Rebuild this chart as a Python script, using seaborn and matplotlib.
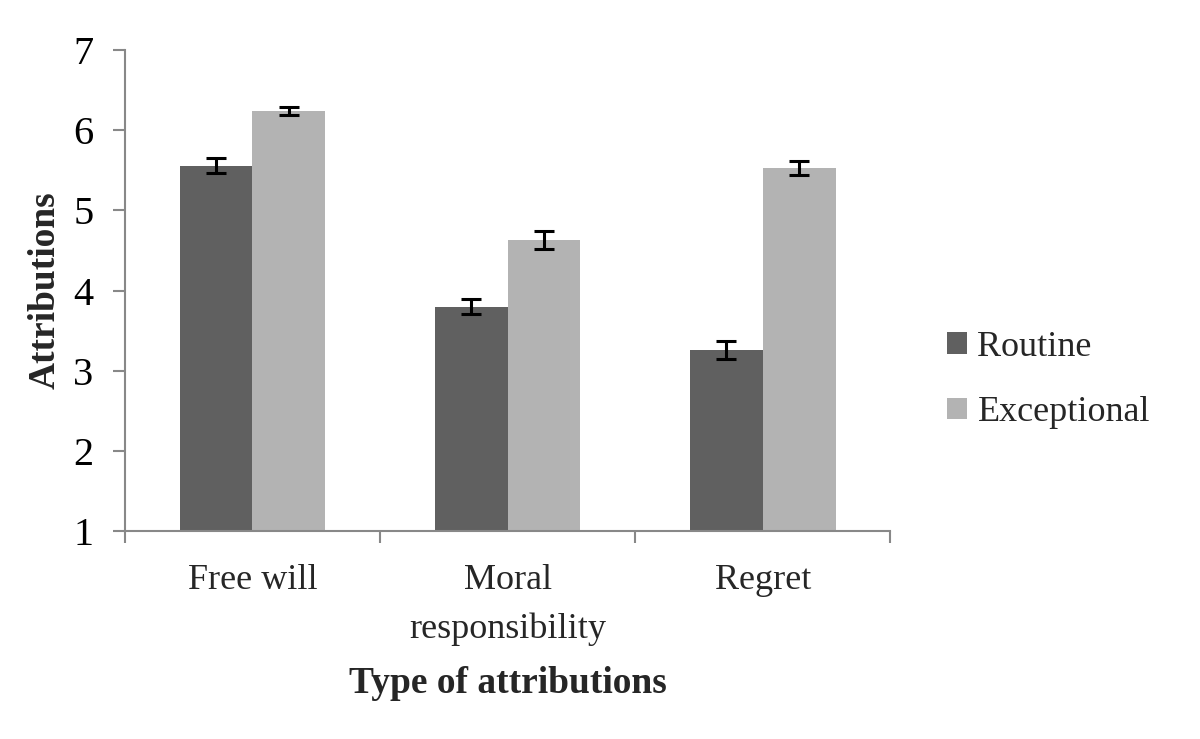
import matplotlib
matplotlib.use("Agg")
import matplotlib.pyplot as plt
import seaborn as sns
import pandas as pd
import numpy as np
from matplotlib.patches import Patch

categories = ["Free will", "Moral\nresponsibility", "Regret"]
conditions = ["Routine", "Exceptional"]
routine_means = [5.56, 3.80, 3.26]
exceptional_means = [6.24, 4.63, 5.53]
routine_err = [0.09, 0.09, 0.11]
exceptional_err = [0.05, 0.11, 0.09]
colors = ["#606060", "#b3b3b3"]

df = pd.DataFrame({
    "category": categories * 2,
    "condition": [conditions[0]] * 3 + [conditions[1]] * 3,
    "value": routine_means + exceptional_means,
    "err": routine_err + exceptional_err,
})

sns.set_style("white")
plt.rcParams["font.family"] = ["Liberation Serif", "DejaVu Serif"]

fig = plt.figure(figsize=(12, 7.39), dpi=100)
ax = fig.add_axes([0.104, 0.2815, 0.638, 0.6505])

sns.barplot(data=df, x="category", y="value", hue="condition", order=categories,
            hue_order=conditions, palette=colors, errorbar=None, width=0.57,
            saturation=1, ax=ax, legend=False, linewidth=0)

# error bars at bar centers
for i, cond in enumerate(conditions):
    sub = df[df.condition == cond].set_index("category").loc[categories]
    cont = ax.containers[i]
    xs = [p.get_x() + p.get_width() / 2 for p in cont.patches]
    ax.errorbar(xs, sub["value"].values, yerr=sub["err"].values, fmt="none",
                ecolor="black", elinewidth=2.2, capsize=7.5, capthick=2.2, zorder=5)

ax.set_ylim(1, 7)
ax.set_xlim(-0.5, 2.5)
ax.set_yticks(range(1, 8))
ax.tick_params(axis="y", labelsize=29, length=8.5, width=1.5, color="#888888",
               direction="out", left=True, pad=14, labelcolor="black")
ax.set_xticks(range(3))
ax.set_xticklabels(categories, fontsize=26)
ax.tick_params(axis="x", which="major", length=0, pad=24)
ax.set_xticks([-0.5, 0.5, 1.5, 2.5], minor=True)
ax.tick_params(axis="x", which="minor", length=8.5, width=1.5, color="#888888",
               direction="out", bottom=True)
for lbl in ax.get_xticklabels():
    lbl.set_linespacing(1.6)

for s in ["top", "right"]:
    ax.spines[s].set_visible(False)
for s in ["left", "bottom"]:
    ax.spines[s].set_color("#888888")
    ax.spines[s].set_linewidth(1.5)

ax.set_ylabel("Attributions", fontsize=27, fontweight="bold", labelpad=8)
ax.set_xlabel("Type of attributions", fontsize=27, fontweight="bold", labelpad=14)

handles = [Patch(facecolor=c, edgecolor="none") for c in colors]
fig.legend(handles, conditions, loc="center left", bbox_to_anchor=(0.789, 1 - 380 / 739),
           frameon=False, fontsize=26, handlelength=0.55, handleheight=0.55,
           labelspacing=0.9, handletextpad=0.3, borderpad=0, borderaxespad=0)

fig.savefig("out.png", dpi=100)
